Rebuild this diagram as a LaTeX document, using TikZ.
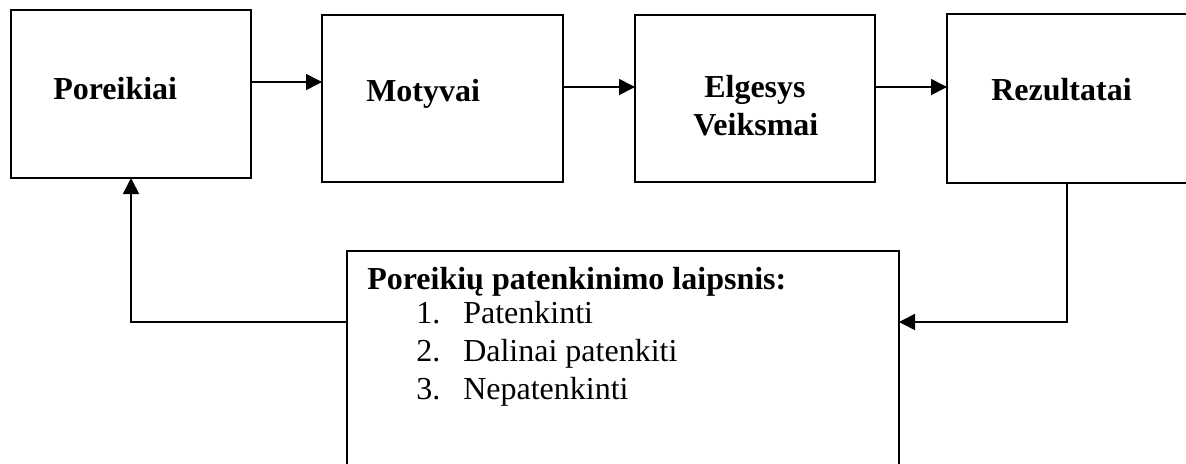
\documentclass[tikz,border=0pt]{standalone}
\usepackage{fontspec}
\setmainfont{Liberation Serif}
\usetikzlibrary{arrows.meta}
\begin{document}
\begin{tikzpicture}[x=0.75pt,y=-0.75pt,
  box/.style={draw=black,line width=1.5pt,inner sep=0pt,outer sep=0pt},
  conn/.style={draw=black,line width=1.3pt},
  arr/.style={conn,-{Triangle[length=12pt,width=12pt]}},
  lbl/.style={anchor=base west,inner sep=0pt,font=\fontsize{24pt}{28pt}\selectfont\bfseries},
  item/.style={anchor=base west,inner sep=0pt,font=\fontsize{24pt}{28pt}\selectfont}]
\useasboundingbox (0,0) rectangle (1186,464);
% boxes
\node[box,minimum width=180pt,minimum height=126pt] (A) at (131,94) {};
\node[box,minimum width=180.75pt,minimum height=125.25pt] (B) at (442.5,98.5) {};
\node[box,minimum width=180pt,minimum height=125.25pt] (C) at (755,98.5) {};
\node[box,minimum width=212.25pt,minimum height=126.75pt] (D) at (1088.5,98.5) {};
\node[box,minimum width=414pt,minimum height=186.75pt] (E) at (623,375.5) {};
% texts
\node[lbl] (tA) at (53,99) {Poreikiai};
\node[lbl] (tB) at (366,101) {Motyvai};
\node[lbl] (tC1) at (704,97) {Elgesys};
\node[lbl] (tC2) at (693,135) {Veiksmai};
\node[lbl] (tD) at (991,100) {Rezultatai};
\node[lbl] (tE) at (367,289) {Poreikių patenkinimo laipsnis:};
\node[item] (n1) at (416,323) {1.};
\node[item] (i1) at (463,323) {Patenkinti};
\node[item] (n2) at (416,361) {2.};
\node[item] (i2) at (463,361) {Dalinai patenkiti};
\node[item] (n3) at (416,399) {3.};
\node[item] (i3) at (463,399) {Nepatenkinti};
% connectors
\coordinate (Dturn) at (1067,322);
\coordinate (Aturn) at (131,322);
\draw[arr] (A.east |- 0,82) -- (B.west |- 0,82);
\draw[arr] (B.east |- 0,87) -- (C.west |- 0,87);
\draw[arr] (C.east |- 0,87) -- (D.west |- 0,87);
\draw[arr] (D.south -| Dturn) -- (Dturn) -- (E.east |- Dturn);
\draw[arr] (E.west |- Aturn) -- (Aturn) -- (A.south -| Aturn);
\end{tikzpicture}
\end{document}
